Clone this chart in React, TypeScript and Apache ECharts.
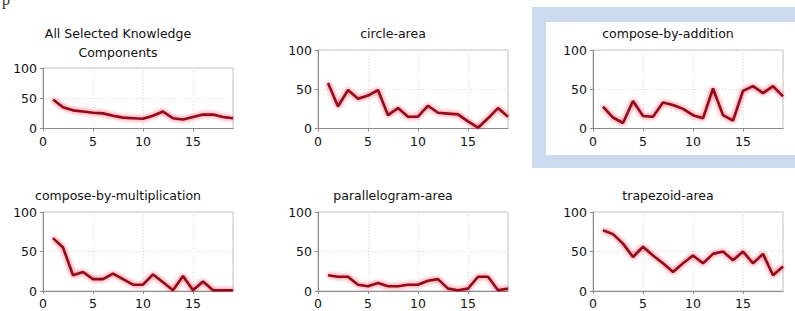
import React, { useEffect, useRef } from "react";
import * as echarts from "echarts";

// Opportunity number (x) for every panel
const opportunities = [1, 2, 3, 4, 5, 6, 7, 8, 9, 10, 11, 12, 13, 14, 15, 16, 17, 18, 19];

// Panel titles (lines)
const panelTitles = [
  ["All Selected Knowledge", "Components"],
  ["circle-area"],
  ["compose-by-addition"],
  ["compose-by-multiplication"],
  ["parallelogram-area"],
  ["trapezoid-area"],
];

// Error rates (%) per opportunity
const allSelected = [48, 35, 30, 28, 26, 25, 21, 18, 17, 16, 21, 28, 17, 15, 19, 23, 23, 19, 17];
const circleArea = [58, 28, 49, 38, 42, 49, 17, 26, 15, 15, 29, 20, 19, 18, 9, 1, 13, 26, 15];
const composeByAddition = [28, 14, 7, 35, 16, 15, 33, 30, 25, 17, 13, 51, 17, 10, 48, 54, 45, 54, 41];
const composeByMultiplication = [67, 55, 20, 24, 15, 15, 22, 15, 8, 8, 21, 11, 1, 19, 1, 12, 1, 1, 1];
const parallelogramArea = [20, 18, 18, 8, 6, 10, 6, 6, 8, 8, 13, 15, 3, 1, 3, 18, 18, 1, 3];
const trapezoidArea = [77, 72, 60, 43, 56, 45, 35, 24, 35, 45, 35, 47, 50, 39, 50, 35, 47, 20, 31];

const seriesValues = [
  allSelected,
  circleArea,
  composeByAddition,
  composeByMultiplication,
  parallelogramArea,
  trapezoidArea,
];

// Axis ticks
const yTickValues = [0, 50, 100];
const xTickValues = [0, 5, 10, 15];

const FONT = "DejaVu Sans";

export default function App() {
  const ref = useRef<HTMLDivElement>(null);

  useEffect(() => {
    const chart = echarts.init(ref.current!, null, { renderer: "svg" });

    const colPitch = 275;
    const grids: any[] = [];
    const xAxes: any[] = [];
    const yAxes: any[] = [];
    const series: any[] = [];
    const graphics: any[] = [];

    // highlight frame around the selected panel
    graphics.push({
      type: "rect",
      z: -10,
      shape: { x: 532, y: 7, width: 280, height: 161 },
      style: { fill: "#ccdaf0" },
    });
    graphics.push({
      type: "rect",
      z: -9,
      shape: { x: 546, y: 22, width: 260, height: 133 },
      style: { fill: "#ffffff" },
    });
    // stray glyph at the top-left corner (cut off in the reference too)
    graphics.push({
      type: "text",
      x: 2,
      y: -9,
      style: { text: "p", fontFamily: "serif", fontSize: 16, fill: "#333" },
    });

    seriesValues.forEach((vals, i) => {
      const c = i % 3;
      const r = Math.floor(i / 3);
      const left = 43 + colPitch * c;
      const twoLine = panelTitles[i].length > 1;
      const top = r === 0 ? (twoLine ? 68 : 50) : 212;
      const bottom = r === 0 ? 128.5 : 291;
      grids.push({
        left,
        top,
        width: 190,
        height: bottom - top,
        show: true,
        borderColor: "#c4c4c4",
        borderWidth: 1,
        backgroundColor: "#ffffff",
        containLabel: false,
      });
      xAxes.push({
        type: "value",
        gridIndex: i,
        min: 0,
        max: 19,
        interval: 5,
        axisLine: { show: true, onZero: false, lineStyle: { color: "#8a8a8a", width: 1 } },
        axisTick: { show: true, length: 3, lineStyle: { color: "#8a8a8a" } },
        axisLabel: {
          showMaxLabel: false,
          margin: 6,
          fontFamily: FONT,
          fontSize: 12.5,
          color: "#111",
          formatter: (v: number) => (xTickValues.includes(v) ? String(v) : ""),
        },
        splitLine: { show: true, lineStyle: { color: "#dadada", type: [1, 2], width: 1 } },
      });
      yAxes.push({
        type: "value",
        gridIndex: i,
        min: 0,
        max: 100,
        interval: 50,
        axisLine: { show: true, lineStyle: { color: "#8a8a8a", width: 1 } },
        axisTick: { show: true, length: 3, lineStyle: { color: "#8a8a8a" } },
        axisLabel: {
          margin: 6,
          fontFamily: FONT,
          fontSize: 12.5,
          color: "#111",
          formatter: (v: number) => (yTickValues.includes(v) ? String(v) : ""),
        },
        splitLine: { show: true, lineStyle: { color: "#dadada", type: [1, 2], width: 1 } },
      });
      series.push({
        type: "line",
        xAxisIndex: i,
        yAxisIndex: i,
        data: opportunities.map((x, k) => [x, vals[k]]),
        showSymbol: false,
        symbol: "none",
        lineStyle: {
          color: "#8e0f1e",
          width: 2.6,
          shadowColor: "rgba(255,20,45,0.85)",
          shadowBlur: 4,
        },
      });
      const centerX = 118 + colPitch * c;
      const centerY = r === 0 ? 33 : 195;
      graphics.push({
        type: "text",
        x: centerX,
        y: centerY - 9.5,
        style: {
          text: panelTitles[i].join("\n"),
          fontFamily: FONT,
          fontSize: 12.5,
          lineHeight: 19,
          fill: "#111",
          align: "center",
          textAlign: "center",
          verticalAlign: "top",
          textVerticalAlign: "top",
        },
      });
    });

    chart.setOption({
      animation: false,
      backgroundColor: "#ffffff",
      grid: grids,
      xAxis: xAxes,
      yAxis: yAxes,
      series,
      graphic: { elements: graphics },
    });

    return () => chart.dispose();
  }, []);

  return (
    <div
      ref={ref}
      style={{ position: "fixed", left: 0, top: 0, width: 795, height: 311, background: "#fff" }}
    />
  );
}
